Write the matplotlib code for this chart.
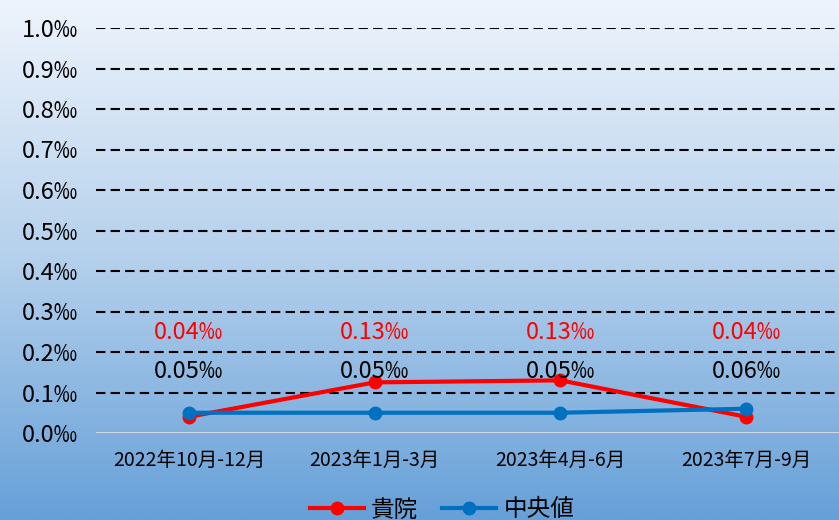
import numpy as np
import matplotlib
matplotlib.use("Agg")
import matplotlib.pyplot as plt
from matplotlib.colors import LinearSegmentedColormap
from matplotlib.lines import Line2D

plt.rcParams['font.family'] = ['Noto Sans CJK JP', 'DejaVu Sans']

categories = ["2022年10月-12月", "2023年1月-3月", "2023年4月-6月", "2023年7月-9月"]
hospital = [0.04, 0.125, 0.13, 0.04]
median = [0.05, 0.05, 0.05, 0.06]
hospital_labels = ["0.04‰", "0.13‰", "0.13‰", "0.04‰"]
median_labels = ["0.05‰", "0.05‰", "0.05‰", "0.06‰"]
yticks = [0.0, 0.1, 0.2, 0.3, 0.4, 0.5, 0.6, 0.7, 0.8, 0.9, 1.0]
ytick_labels = ["0.0‰", "0.1‰", "0.2‰", "0.3‰", "0.4‰", "0.5‰", "0.6‰", "0.7‰", "0.8‰", "0.9‰", "1.0‰"]

W, H = 839, 520
fig = plt.figure(figsize=(W / 100, H / 100), dpi=100)

# gradient background
bg = fig.add_axes([0, 0, 1, 1], zorder=0)
cmap = LinearSegmentedColormap.from_list("bg", ["#eef4fc", "#b4d0ec", "#66a0d8"])
grad = np.linspace(0, 1, 256).reshape(-1, 1)
bg.imshow(grad, aspect="auto", cmap=cmap, extent=[0, 1, 0, 1], origin="upper")
bg.axis("off")

x0, x1 = 96 / W, 839 / W
y_top, y_bot = 28, 433
ax = fig.add_axes([x0, 1 - y_bot / H, x1 - x0, (y_bot - y_top) / H], zorder=1)
ax.patch.set_alpha(0)

x = np.arange(len(categories))
ax.set_xlim(-0.5, len(categories) - 0.5)
ax.set_ylim(0, 1.0)

for yv in yticks[1:]:
    ax.axhline(yv, color="black", linestyle=(0, (4.5, 2.5)), linewidth=1.5, zorder=1)
ax.axhline(0, color="#d9dde3", linewidth=2, zorder=1)

ax.plot(x, hospital, color="#ff0000", linewidth=3, marker="o", markersize=9, zorder=3, label="貴院")
ax.plot(x, median, color="#0070c0", linewidth=3, marker="o", markersize=9, zorder=4, label="中央値")

for i in range(len(categories)):
    ax.text(x[i], 0.247, hospital_labels[i], color="#ff0000", fontsize=17, ha="center", va="center", zorder=5)
    ax.text(x[i], 0.153, median_labels[i], color="black", fontsize=17, ha="center", va="center", zorder=5)

for s in ax.spines.values():
    s.set_visible(False)
ax.set_yticks(yticks)
ax.set_yticklabels(ytick_labels, fontsize=17)
ax.set_xticks(x)
ax.set_xticklabels(categories, fontsize=14)
ax.tick_params(axis="both", length=0)
ax.tick_params(axis="y", pad=13)
ax.tick_params(axis="x", pad=12)

handles = [
    Line2D([0], [0], color="#ff0000", linewidth=3, marker="o", markersize=9),
    Line2D([0], [0], color="#0070c0", linewidth=3, marker="o", markersize=9),
]
fig.legend(handles, ["貴院", "中央値"], loc="center", bbox_to_anchor=(442 / W, 1 - 510 / H),
           ncol=2, frameon=False, fontsize=17, handlelength=2.3, columnspacing=1.0, handletextpad=0.3)

fig.savefig("out.png", dpi=100)
